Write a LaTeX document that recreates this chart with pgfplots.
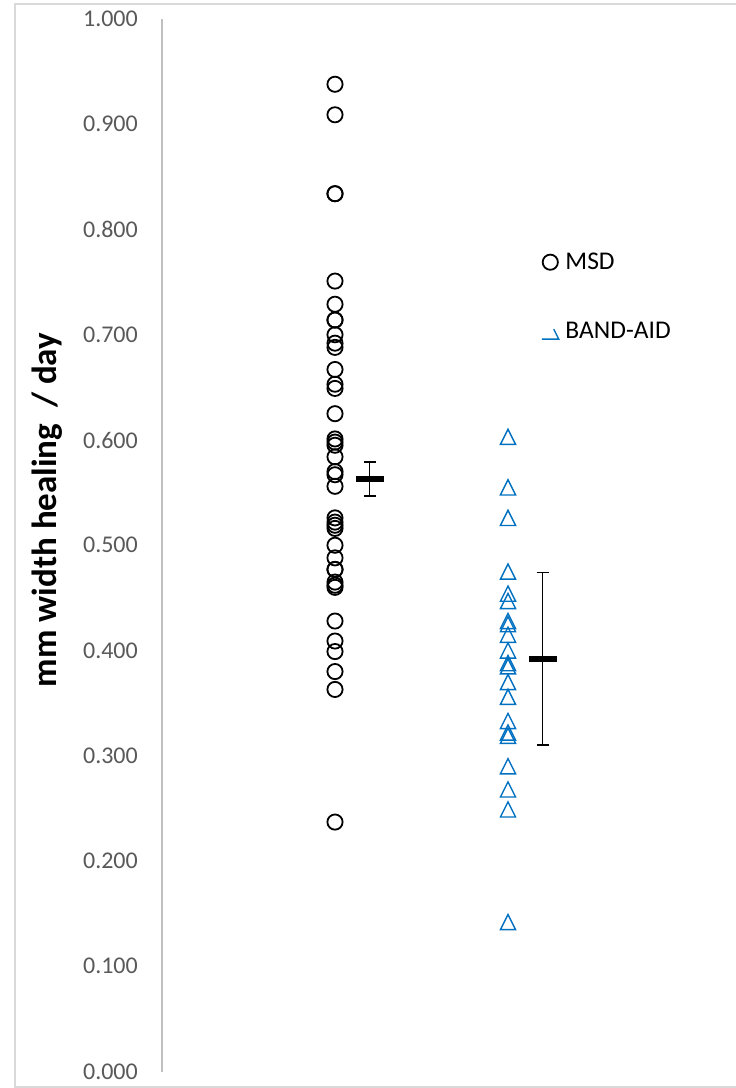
\documentclass[border=0pt]{standalone}
\usepackage{pgfplots}
\pgfplotsset{compat=1.18}
\usepackage{fontspec}
\setmainfont{Carlito}
\definecolor{bandblue}{RGB}{0,112,192}
\definecolor{tickgray}{RGB}{89,89,89}
\definecolor{axgray}{RGB}{191,191,191}
\definecolor{framegray}{RGB}{217,217,217}
\pgfdeclareplotmark{tri}{%
 \pgfpathmoveto{\pgfqpoint{0pt}{\pgfplotmarksize}}%
 \pgfpathlineto{\pgfqpoint{-\pgfplotmarksize}{-\pgfplotmarksize}}%
 \pgfpathlineto{\pgfqpoint{\pgfplotmarksize}{-\pgfplotmarksize}}%
 \pgfpathclose\pgfusepathqstroke}
\begin{document}
\begin{tikzpicture}[x=1pt,y=1pt]
\draw[framegray, line width=1.3pt] (760,1084) -- (15,1084) -- (15,1) -- (760,1);
\begin{axis}[
 at={(162pt,16.5pt)}, anchor=south west, scale only axis,
 width=553.6pt, height=1052.5pt,
 xmin=0, xmax=3.2, ymin=0, ymax=1,
 clip=false,
 axis x line=none, axis y line=left,
 y axis line style={-, draw=axgray, line width=1.5pt},
 ytick={0,0.1,0.2,0.3,0.4,0.5,0.6,0.7,0.8,0.9,1.0},
 major tick length=0pt,
 ytick style={draw=none},
 yticklabel style={/pgf/number format/fixed, /pgf/number format/fixed zerofill, /pgf/number format/precision=3, /pgf/number format/assume math mode=true,
   font=\fontsize{24}{28}\selectfont, text=tickgray, anchor=east, inner sep=0pt, xshift=-24pt},
 ylabel={mm width healing\ \ / day},
 ylabel style={font=\fontsize{35}{40}\selectfont\bfseries, at={(axis description cs:-0.2077,0.5335)}, anchor=center},
 legend style={draw=none, fill=none, at={(axis description cs:0.6844,0.7777)}, anchor=north west,
   font=\fontsize{25.5}{30}\selectfont, row sep=51pt, inner sep=0pt, nodes={inner sep=0pt},
   /tikz/every odd column/.append style={column sep=6pt}},
 legend cell align=left,
]
\addplot[forget plot, only marks, mark=-, mark size=14pt, mark options={line width=6.5pt, black},
 error bars/.cd, y dir=both, y explicit,
 error bar style={line width=1.5pt, black},
 error mark options={rotate=90, mark size=6pt, line width=1.5pt, black}]
 coordinates {(1.2,0.563) +- (0,0.016) (2.2,0.392) +- (0,0.082)};
\addplot[only marks, black, mark=o, mark size=7.6pt, mark options={line width=1.8pt, black},
 legend image code/.code={\draw[black, line width=1.8pt] (8.5pt,0pt) circle (7.6pt);}]
 coordinates {
 (1,0.938) (1,0.909) (1,0.834) (1,0.834) (1,0.751) (1,0.729) (1,0.714) (1,0.714)
 (1,0.700) (1,0.692) (1,0.688) (1,0.667) (1,0.653) (1,0.649) (1,0.625) (1,0.601)
 (1,0.598) (1,0.595) (1,0.584) (1,0.570) (1,0.567) (1,0.556) (1,0.526) (1,0.522)
 (1,0.519) (1,0.516) (1,0.500) (1,0.488) (1,0.477) (1,0.477) (1,0.465) (1,0.462)
 (1,0.460) (1,0.428) (1,0.409) (1,0.399) (1,0.380) (1,0.363) (1,0.237)};
\addlegendentry{MSD}
\addplot[only marks, bandblue, mark=tri, mark size=7.6pt, mark options={line width=1.4pt, bandblue},
 legend image code/.code={\draw[bandblue, line width=1.4pt] (0pt,-8pt) -- (17pt,-8pt) -- (12pt,2pt);}]
 coordinates {
 (2,0.603) (2,0.555) (2,0.526) (2,0.475) (2,0.454) (2,0.447) (2,0.428) (2,0.425)
 (2,0.415) (2,0.400) (2,0.388) (2,0.385) (2,0.370) (2,0.356) (2,0.333) (2,0.322)
 (2,0.319) (2,0.290) (2,0.268) (2,0.249) (2,0.142)};
\addlegendentry{BAND-AID}
\end{axis}
\pgfresetboundingbox
\path[use as bounding box] (0,0) rectangle (736,1088);
\end{tikzpicture}
\end{document}
